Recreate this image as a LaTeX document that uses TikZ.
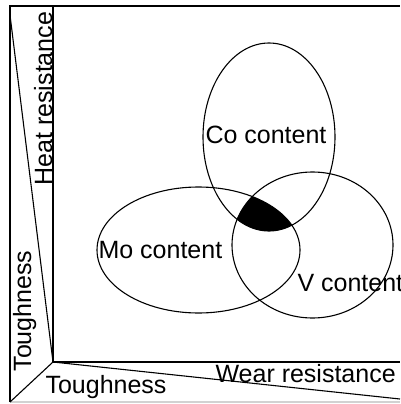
\documentclass[tikz,border=0pt]{standalone}
\usepackage{fontspec}
\setmainfont{Liberation Sans}
\begin{document}
\begin{tikzpicture}[x=1pt,y=-1pt,line width=1.1pt,
    every node/.style={font=\fontsize{25}{30}\selectfont,inner sep=0pt,anchor=base west}]
    \useasboundingbox (0,0) rectangle (400,404);
    \clip (0,0) rectangle (400,404);

    % frame corners
    \coordinate (tl) at (10,6);
    \coordinate (tr) at (400,6);
    \coordinate (bl) at (10,402);
    \coordinate (br) at (400,402);
    \coordinate (o) at (53,362);
    \coordinate (it) at (53,6);
    \coordinate (ir) at (400,362);
    \coordinate (hx) at (10,15);
    \coordinate (wx) at (400,399);

    \draw[gray!35] (bl)--(br);
    \draw (bl)--(tl)--(tr);
    \draw (it)--(o)--(ir);
    \draw (hx)--(o)--(wx);
    \draw (o)--(bl);

    % common part of the three
    \begin{scope}
        \clip (269,137) ellipse (66 and 94);
        \clip (198.5,250) ellipse (101.5 and 63);
        \fill (312.5,245) ellipse (80.5 and 73);
    \end{scope}
    \draw (269,137) ellipse (66 and 94);
    \draw (198.5,250) ellipse (101.5 and 63);
    \draw (312.5,245) ellipse (80.5 and 73);

    \node (co) at (205,143) {Co content};
    \node (mo) at (98,258) {Mo content};
    \node (v) at (297,291) {V content};

    \node (wear) at (215,382) {Wear resistance};
    \node (tgh) at (45,393) {Toughness};
    \node[rotate=90] (tgv) at (31,372) {Toughness};
    \node[rotate=90] (heat) at (52,186) {Heat resistance};
\end{tikzpicture}
\end{document}
